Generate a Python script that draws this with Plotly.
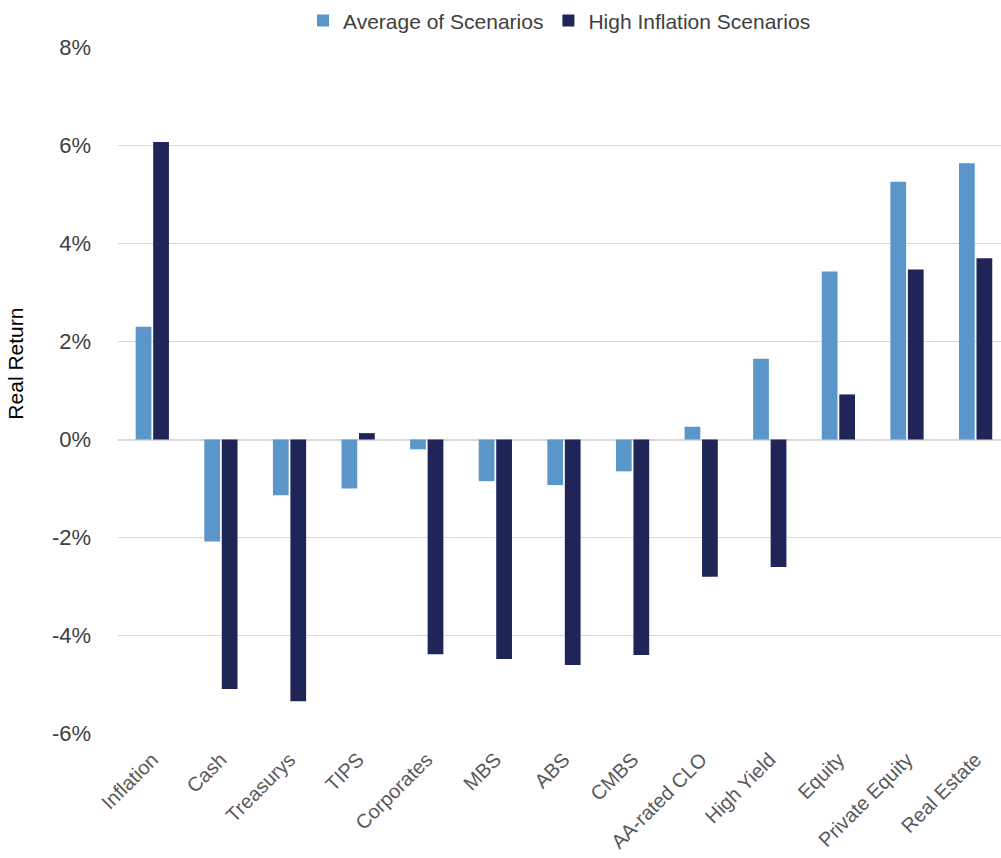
import plotly.graph_objects as go

categories = ["Inflation", "Cash", "Treasurys", "TIPS", "Corporates", "MBS", "ABS",
              "CMBS", "AA-rated CLO", "High Yield", "Equity", "Private Equity", "Real Estate"]
avg_scenarios = [2.30, -2.08, -1.14, -1.00, -0.20, -0.85, -0.93, -0.65, 0.26, 1.65, 3.43, 5.26, 5.64]
high_inflation = [6.07, -5.09, -5.34, 0.13, -4.38, -4.48, -4.60, -4.40, -2.80, -2.60, 0.92, 3.47, 3.70]
y_ticks = [-6, -4, -2, 0, 2, 4, 6, 8]
y_tick_labels = [f"{v}%" for v in y_ticks]

FONT = "Liberation Sans, Arial, sans-serif"

fig = go.Figure()
fig.add_trace(go.Bar(x=categories, y=avg_scenarios, name="Average of Scenarios",
                     marker=dict(color="#5B96CB", line=dict(width=0))))
fig.add_trace(go.Bar(x=categories, y=high_inflation, name="High Inflation Scenarios",
                     marker=dict(color="#1F2557", line=dict(width=0))))

fig.update_layout(
    width=1001, height=858,
    margin=dict(l=118, r=0, t=44, b=124),
    paper_bgcolor="white", plot_bgcolor="white",
    barmode="group", bargap=0.49, bargroupgap=0.1,
    font=dict(family=FONT, color="#404040"),
    showlegend=True,
    legend=dict(orientation="h", x=0.5, xanchor="center", y=1.038, yanchor="middle",
                font=dict(size=21, color="#404040"), itemwidth=30,
                traceorder="normal", bgcolor="rgba(0,0,0,0)"),
    xaxis=dict(range=[-0.5, 12.37], tickangle=-45, showgrid=False, showline=False,
               automargin=False,
               ticks="", tickfont=dict(size=20, color="#595959"), ticklabelstandoff=9),
    yaxis=dict(range=[-6.01, 8.01], tickvals=y_ticks, ticktext=y_tick_labels,
               automargin=False,
               showgrid=True, gridcolor="#D9D9D9", gridwidth=1,
               zeroline=True, zerolinecolor="#D9D9D9", zerolinewidth=1.5,
               showline=False, ticks="", tickfont=dict(size=22, color="#404040"),
               ticklabelstandoff=26),
)

fig.add_annotation(text="Real Return", textangle=-90, xref="paper", yref="paper",
                   x=-0.1155, xanchor="center", y=(734 - 362) / 690, yanchor="middle",
                   showarrow=False, font=dict(size=21, color="#000000", family=FONT))

fig.write_html("out.html")
